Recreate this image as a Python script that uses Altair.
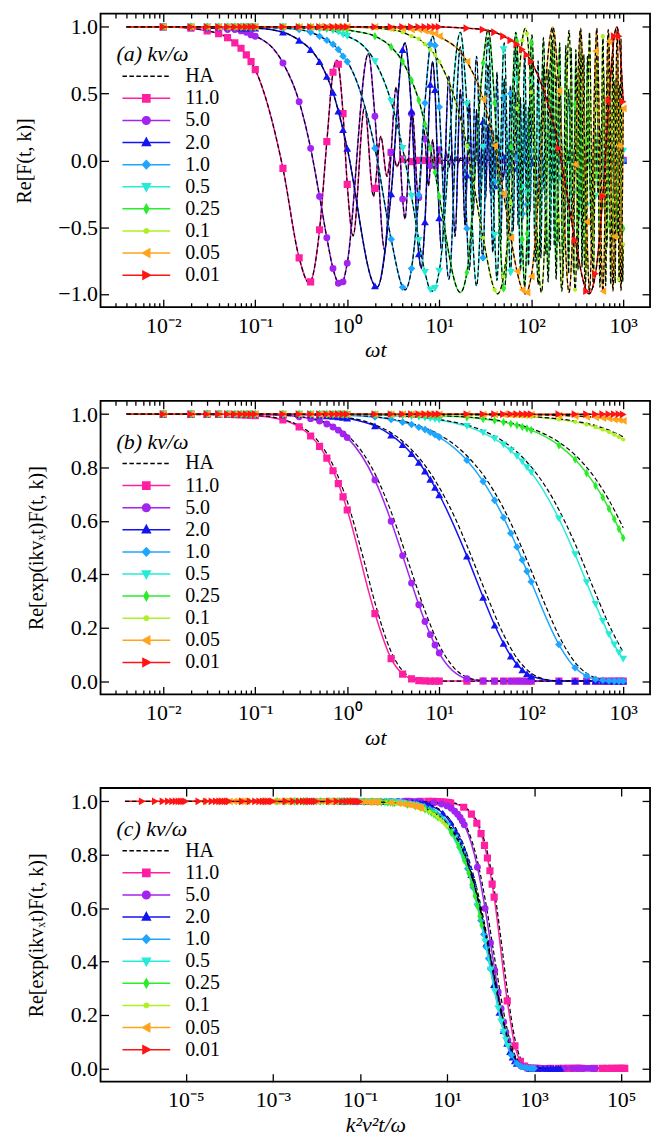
import altair as alt
import pandas as pd

SERIF = "Liberation Serif"

# ---------------- series ----------------
SERIES = ["11.0", "5.0", "2.0", "1.0", "0.5", "0.25", "0.1", "0.05", "0.01"]
KV = [11.0, 5.0, 2.0, 1.0, 0.5, 0.25, 0.1, 0.05, 0.01]
COLORS = ["#ff1fa3", "#a323f0", "#1414f2", "#1ea6ff", "#25ebd8",
          "#2bec2b", "#aef024", "#ffa41c", "#ff1414"]
MARK_SHAPES = ["square", "circle", "triangle-up", "diamond", "triangle-down",
               "M0,-1.1L0.6,0L0,1.1L-0.6,0Z", "circle", "triangle-left", "triangle-right"]
MARK_SIZES = [52, 48, 62, 58, 62, 62, 18, 62, 62]

# sampling times of the plotted markers (omega t)
MARK_T = [0.01, 0.02, 0.03, 0.04, 0.05, 0.06, 0.07, 0.08, 0.09,
          0.1, 0.2, 0.3, 0.4, 0.5, 0.6, 0.7, 0.8, 0.9,
          1, 2, 3, 4, 5, 6, 7, 8, 9,
          10, 20, 30, 40, 50, 60, 70, 80, 90,
          100, 200, 300, 400, 500, 600, 700, 800, 900,
          1000]
T_START = 0.004

# ---------------- panel (a): Re F(t,k) at the marker times ----------------
a_mk_11 = [1.00, 0.99, 0.97, 0.95, 0.92, 0.88, 0.84, 0.79, 0.74,
           0.68, -0.06, -0.73, -0.91, -0.52, 0.14, 0.66, 0.72, 0.35,
           -0.18, -0.21, 0.06, 0.01, -0.01, 0.0, 0.0, 0.0, 0.0] + [0.0] * 19
a_mk_5 = [1.00, 1.00, 0.99, 0.99, 0.98, 0.98, 0.97, 0.96, 0.94,
          0.93, 0.73, 0.44, 0.09, -0.27, -0.58, -0.81, -0.92, -0.91,
          -0.77, 0.33, 0.06, -0.29, 0.35, -0.28, 0.16, -0.04, -0.04,
          0.08] + [0.0] * 18
a_mk_2 = [1.0, 1.0, 1.0, 1.0, 1.0, 1.0, 0.99, 0.99, 0.99,
          0.99, 0.96, 0.90, 0.83, 0.74, 0.63, 0.51, 0.37, 0.23,
          0.09, -0.94, -0.25, 0.83, 0.37, -0.70, -0.46, 0.57, 0.53,
          -0.43, -0.11, 0.29, -0.19, 0.03, 0.06, -0.06, 0.02, 0.01,
          -0.02] + [0.0] * 9
a_mk_1 = [1.0] * 10 + [0.99, 0.98, 0.96, 0.93, 0.90, 0.87, 0.83, 0.78,
          0.74, 0.09, -0.59, -0.95, -0.81, -0.26, 0.43, 0.87, 0.86,
          0.40, -0.51, -0.73, -0.16, 0.47, 0.50, 0.02, -0.40, -0.33,
          0.07, -0.13, -0.03, 0.01, 0.01, 0.0, 0.0, 0.0, 0.0,
          0.0]
a_mk_05 = [1.0] * 11 + [0.99, 0.99, 0.98, 0.98, 0.97, 0.96, 0.94,
           0.93, 0.74, 0.44, 0.09, -0.27, -0.60, -0.84, -0.97, -0.96,
           -0.83, 0.42, 0.10, -0.56, 0.83, -0.84, 0.60, -0.20, -0.25,
           0.60, 0.11, -0.23, -0.34, -0.27, -0.12, 0.03, 0.10, 0.11,
           0.07]
a_mk_025 = [1.0] * 14 + [0.99, 0.99, 0.99, 0.99,
            0.98, 0.93, 0.85, 0.74, 0.60, 0.45, 0.27, 0.09, -0.09,
            -0.27, -0.84, 0.73, 0.43, -0.96, 0.10, 0.89, -0.59, -0.55,
            0.88, 0.68, 0.42, 0.14, -0.11, -0.34, -0.48, -0.57, -0.57,
            -0.51]
a_mk_01 = [1.0] * 19 + [0.99, 0.98, 0.96, 0.93, 0.91, 0.87, 0.83, 0.79,
           0.74, 0.11, -0.58, -0.97, -0.87, -0.32, 0.39, 0.90, 0.95,
           0.51, -0.45, -0.97, -0.56, 0.38, 0.93, 0.60, -0.30, -0.89,
           -0.63]
a_mk_005 = [1.0] * 20 + [0.99, 0.99, 0.98, 0.98, 0.97, 0.96, 0.95,
            0.93, 0.74, 0.46, 0.11, -0.25, -0.58, -0.83, -0.97, -0.99,
            -0.87, 0.52, -0.03, -0.46, 0.82, -0.98, 0.89, -0.57, 0.11,
            0.39]
a_mk_001 = [1.0] * 28 + [0.99, 0.98, 0.96, 0.93, 0.90, 0.87, 0.83, 0.79,
            0.74, 0.09, -0.60, -0.98, -0.85, -0.27, 0.45, 0.93, 0.93,
            0.44]

# oscillation turning points of the panel (a) curves
ext_t_11 = [0.386, 0.772, 1.158, 1.544, 1.930, 2.316, 2.702, 3.088, 3.474, 3.860, 4.246, 4.632]
ext_y_11 = [-0.92, 0.75, -0.565, 0.40, -0.27, 0.18, -0.12, 0.076, -0.048, 0.03, -0.02, 0.012]
ext_t_5 = [0.849, 1.698, 2.547, 3.396, 4.245, 5.094, 5.943, 6.792, 7.641, 8.49,
           9.339, 10.188, 11.037, 11.886, 12.735, 13.584, 14.433, 15.282, 16.13, 16.98]
ext_y_5 = [-0.93, 0.80, -0.67, 0.55, -0.44, 0.36, -0.29, 0.235, -0.19, 0.154,
           -0.124, 0.10, -0.081, 0.066, -0.053, 0.043, -0.035, 0.028, -0.023, 0.018]
ext_t_2 = [2.122, 4.245, 6.367, 8.49, 10.61, 12.73, 14.86, 16.98, 19.10, 21.22,
           23.35, 25.47, 27.59, 29.71, 31.84, 33.96, 36.08, 38.20, 40.33, 42.45,
           48.82, 55.18, 61.55, 67.92, 74.28, 80.65, 87.02, 93.39, 99.75, 106.1]
ext_y_2 = [-0.95, 0.88, -0.81, 0.74, -0.68, 0.63, -0.57, 0.53, -0.49, 0.45,
           -0.41, 0.38, -0.345, 0.32, -0.29, 0.27, -0.25, 0.23, -0.21, 0.19,
           -0.15, 0.115, -0.089, 0.069, -0.053, 0.041, -0.032, 0.025, -0.019, 0.015]
ext_t_1 = [4.245, 8.49, 12.735, 16.98, 21.22, 25.47, 29.71, 33.96, 38.20, 42.45,
           46.69, 50.94, 55.18, 59.43, 63.67, 67.92, 72.16, 76.41, 80.65, 84.90,
           89.14, 93.39, 97.63, 101.88, 114.61, 127.35, 140.08, 152.82, 165.55, 178.29,
           191.02, 203.76, 224.98, 246.2, 267.43, 288.65, 309.88, 331.1, 352.33, 373.55,
           394.78, 416.0, 437.2, 458.4]
ext_y_1 = [-0.97, 0.93, -0.89, 0.85, -0.82, 0.78, -0.75, 0.72, -0.69, 0.66,
           -0.63, 0.61, -0.58, 0.56, -0.53, 0.51, -0.49, 0.47, -0.45, 0.43,
           -0.41, 0.40, -0.38, 0.365, -0.32, 0.28, -0.25, 0.22, -0.19, 0.17,
           -0.15, 0.13, -0.107, 0.085, -0.069, 0.056, -0.045, 0.037, -0.030, 0.024,
           -0.019, 0.016, -0.013, 0.010]
ext_t_05 = [8.49, 16.98, 25.47, 33.96, 42.45, 50.94, 59.43, 67.92, 76.41, 84.90,
            93.39, 101.88, 110.37, 118.86, 127.35, 135.84, 144.33, 152.82, 161.31, 169.80,
            178.29, 186.78, 195.27, 203.76, 229.22, 254.69, 280.16, 305.63, 331.10, 356.57,
            382.04, 407.51, 449.96, 492.41, 534.86, 577.31, 619.76, 662.2, 704.65, 747.1,
            789.55, 832.0, 874.45, 916.9, 959.35]
ext_y_05 = [-0.98, 0.96, -0.94, 0.92, -0.90, 0.88, -0.86, 0.85, -0.83, 0.81,
            -0.79, 0.78, -0.76, 0.745, -0.73, 0.71, -0.70, 0.68, -0.67, 0.66,
            -0.64, 0.63, -0.615, 0.60, -0.565, 0.53, -0.50, 0.47, -0.44, 0.41,
            -0.39, 0.36, -0.33, 0.29, -0.26, 0.24, -0.21, 0.19, -0.17, 0.155,
            -0.14, 0.125, -0.11, 0.10, -0.09]
ext_t_025 = [16.98, 33.96, 50.94, 67.92, 84.90, 101.88, 118.86, 135.84, 152.82, 169.80,
             186.78, 203.76, 220.74, 237.72, 254.69, 271.67, 288.65, 305.63, 322.61, 339.59,
             356.57, 373.55, 390.53, 407.51, 458.45, 509.39, 560.33, 611.27, 662.2, 713.14,
             764.08, 815.02, 865.96, 916.9, 967.84]
ext_y_025 = [-0.99, 0.98, -0.97, 0.96, -0.95, 0.94, -0.93, 0.92, -0.91, 0.90,
             -0.89, 0.88, -0.87, 0.86, -0.85, 0.84, -0.84, 0.83, -0.82, 0.81,
             -0.80, 0.79, -0.78, 0.78, -0.75, 0.73, -0.70, 0.68, -0.66, 0.64,
             -0.62, 0.60, -0.58, 0.56, -0.55]
ext_t_01 = [43, 86, 129, 172, 215, 258, 301, 344, 387, 430, 473, 516,
            559, 602, 645, 688, 731, 774, 817, 860, 903, 946, 989]
ext_y_01 = [-1.0, 0.99, -0.99, 0.98, -0.98, 0.975, -0.97, 0.97, -0.96, 0.96, -0.95, 0.95,
            -0.95, 0.94, -0.94, 0.93, -0.93, 0.93, -0.92, 0.92, -0.91, 0.91, -0.91]
ext_t_005 = [86, 172, 258, 344, 430, 516, 602, 688, 774, 860, 946]
ext_y_005 = [-1.0, 1.0, -0.99, 0.99, -0.99, 0.99, -0.985, 0.98, -0.98, 0.98, -0.976]
ext_t_001 = [424.5, 849.0]
ext_y_001 = [-1.0, 1.0]

# ranges where the fast oscillation is drawn only through its turning points
skip_2 = (42.5, 110)
skip_1 = (102, 460)
skip_05 = (204, 999)
skip_025 = (408, 999)

# ---------------- panel (b): Re[exp(ikv_x t) F] at the marker times ----------------
b_mk_11 = [1.0, 1.0, 1.0, 1.0, 0.999, 0.998, 0.997, 0.996, 0.995,
           0.994, 0.978, 0.952, 0.918, 0.879, 0.835, 0.788, 0.740, 0.690,
           0.641, 0.253, 0.084, 0.026, 0.008, 0.002, 0.001, 0.0, 0.0] + [0.0] * 19
b_mk_5 = [1.0, 1.0, 1.0, 1.0, 1.0, 1.0, 0.999, 0.999, 0.999,
          0.999, 0.995, 0.990, 0.983, 0.974, 0.963, 0.952, 0.940, 0.926,
          0.912, 0.753, 0.599, 0.470, 0.367, 0.286, 0.223, 0.174, 0.135,
          0.105, 0.009, 0.001] + [0.0] * 16
b_mk_2 = [1.0] * 10 + [0.999, 0.998, 0.997, 0.996, 0.994, 0.992, 0.990, 0.988,
          0.985, 0.956, 0.921, 0.886, 0.852, 0.819, 0.787, 0.756, 0.726,
          0.698, 0.468, 0.314, 0.210, 0.141, 0.094, 0.063, 0.042, 0.028,
          0.019, 0.0] + [0.0] * 8
b_mk_1 = [1.0] * 12 + [0.999, 0.999, 0.999, 0.998, 0.998, 0.997,
          0.996, 0.989, 0.980, 0.970, 0.961, 0.951, 0.942, 0.932, 0.923,
          0.914, 0.827, 0.748, 0.677, 0.613, 0.554, 0.502, 0.454, 0.411,
          0.372, 0.137, 0.050, 0.019, 0.007, 0.003, 0.001, 0.0, 0.0,
          0.0]
b_mk_05 = [1.0] * 18 + [0.999, 0.997, 0.995, 0.992, 0.990, 0.988, 0.985, 0.983, 0.980,
           0.978, 0.954, 0.930, 0.907, 0.885, 0.863, 0.842, 0.821, 0.800,
           0.781, 0.608, 0.474, 0.369, 0.287, 0.224, 0.174, 0.136, 0.106,
           0.082]
b_mk_025 = [1.0] * 19 + [0.999, 0.999, 0.998, 0.998, 0.997, 0.996, 0.996, 0.995,
            0.994, 0.988, 0.982, 0.976, 0.970, 0.964, 0.958, 0.952, 0.946,
            0.940, 0.883, 0.830, 0.779, 0.732, 0.688, 0.646, 0.607, 0.570,
            0.536]
b_mk_01 = [1.0] * 20 + [0.999] * 7 + [0.999, 0.998, 0.997, 0.996, 0.995, 0.994, 0.993, 0.992, 0.991,
           0.990, 0.980, 0.971, 0.961, 0.951, 0.942, 0.933, 0.923, 0.914,
           0.905]
b_mk_005 = [1.0] * 29 + [0.999, 0.999, 0.999, 0.998, 0.998, 0.998, 0.998,
            0.998, 0.995, 0.993, 0.990, 0.988, 0.985, 0.983, 0.980, 0.978,
            0.975]
b_mk_001 = [1.0] * 45 + [0.999]

# HA curves of panels (b) and (c)
ha_t_11 = [0.004, 0.1, 0.2, 0.3, 0.5, 0.7, 1, 1.5, 2, 3, 5, 7, 10, 1000]
ha_y_11 = [1.0, 0.995, 0.98, 0.957, 0.892, 0.809, 0.673, 0.459, 0.294, 0.11, 0.013, 0.002, 0.0, 0.0]
ha_t_5 = [0.004, 0.1, 0.2, 0.3, 0.5, 0.7, 1, 1.5, 2, 3, 5, 7, 10, 15, 20, 30, 50, 1000]
ha_y_5 = [1.0, 0.999, 0.996, 0.991, 0.977, 0.957, 0.921, 0.851, 0.777, 0.634, 0.41, 0.263,
          0.135, 0.044, 0.015, 0.002, 0.0, 0.0]
ha_t_2 = [0.004, 0.3, 0.5, 0.7, 1, 1.5, 2, 3, 5, 7, 10, 15, 20, 30, 50, 70, 100, 150, 200, 1000]
ha_y_2 = [1.0, 0.999, 0.996, 0.993, 0.987, 0.975, 0.96, 0.93, 0.867, 0.808, 0.726, 0.608,
          0.508, 0.356, 0.175, 0.086, 0.03, 0.005, 0.001, 0.0]
ha_t_1 = [0.004, 0.5, 1, 2, 3, 5, 7, 10, 15, 20, 30, 50, 70, 100, 150, 200, 300, 500, 700, 1000]
ha_y_1 = [1.0, 0.999, 0.997, 0.99, 0.982, 0.965, 0.948, 0.923, 0.883, 0.844, 0.773, 0.647,
          0.541, 0.414, 0.266, 0.17, 0.07, 0.012, 0.002, 0.0]
ha_t_05 = [0.004, 1, 2, 3, 5, 7, 10, 15, 20, 30, 50, 70, 100, 150, 200, 300, 500, 700, 1000]
ha_y_05 = [1.0, 0.999, 0.997, 0.995, 0.991, 0.987, 0.98, 0.969, 0.959, 0.938, 0.897, 0.858,
           0.802, 0.718, 0.642, 0.514, 0.329, 0.211, 0.108]
ha_t_025 = [0.004, 1, 5, 10, 20, 30, 50, 70, 100, 150, 200, 300, 500, 700, 1000]
ha_y_025 = [1.0, 1.0, 0.998, 0.995, 0.989, 0.984, 0.973, 0.962, 0.946, 0.92, 0.895, 0.847,
            0.758, 0.678, 0.574]
ha_t_01 = [0.004, 10, 30, 50, 100, 200, 300, 500, 700, 1000]
ha_y_01 = [1.0, 0.999, 0.997, 0.996, 0.991, 0.982, 0.974, 0.957, 0.94, 0.915]
ha_t_005 = [0.004, 30, 100, 300, 500, 700, 1000]
ha_y_005 = [1.0, 1.0, 0.998, 0.993, 0.989, 0.985, 0.978]
ha_t_001 = [0.004, 1000]
ha_y_001 = [1.0, 0.999]

# ticks
X_MAJOR_AB = [0.01, 0.1, 1, 10, 100, 1000]
X_MINOR_AB = [0.003, 0.004, 0.005, 0.006, 0.007, 0.008, 0.009,
              0.02, 0.03, 0.04, 0.05, 0.06, 0.07, 0.08, 0.09,
              0.2, 0.3, 0.4, 0.5, 0.6, 0.7, 0.8, 0.9,
              2, 3, 4, 5, 6, 7, 8, 9,
              20, 30, 40, 50, 60, 70, 80, 90,
              200, 300, 400, 500, 600, 700, 800, 900]
X_MAJOR_C = [1e-5, 1e-3, 1e-1, 1e1, 1e3, 1e5]
Y_TICKS_A = [-1.0, -0.5, 0.0, 0.5, 1.0]
Y_TICKS_BC = [0.0, 0.2, 0.4, 0.6, 0.8, 1.0]

# ---------------- assemble tables ----------------
A_MK = [a_mk_11, a_mk_5, a_mk_2, a_mk_1, a_mk_05, a_mk_025, a_mk_01, a_mk_005, a_mk_001]
A_ET = [ext_t_11, ext_t_5, ext_t_2, ext_t_1, ext_t_05, ext_t_025, ext_t_01, ext_t_005, ext_t_001]
A_EY = [ext_y_11, ext_y_5, ext_y_2, ext_y_1, ext_y_05, ext_y_025, ext_y_01, ext_y_005, ext_y_001]
A_SKIP = [None, None, skip_2, skip_1, skip_05, skip_025, None, None, None]
B_MK = [b_mk_11, b_mk_5, b_mk_2, b_mk_1, b_mk_05, b_mk_025, b_mk_01, b_mk_005, b_mk_001]
HA_T = [ha_t_11, ha_t_5, ha_t_2, ha_t_1, ha_t_05, ha_t_025, ha_t_01, ha_t_005, ha_t_001]
HA_Y = [ha_y_11, ha_y_5, ha_y_2, ha_y_1, ha_y_05, ha_y_025, ha_y_01, ha_y_005, ha_y_001]

for lst in A_MK + B_MK:
    assert len(lst) == len(MARK_T), len(lst)
for a, b in zip(A_ET + HA_T, A_EY + HA_Y):
    assert len(a) == len(b), (len(a), len(b))

line_a, mk_a, line_b, mk_b, ha_b = [], [], [], [], []
for s, kv, amk, et, ey, sk, bmk, ht, hy in zip(SERIES, KV, A_MK, A_ET, A_EY, A_SKIP, B_MK, HA_T, HA_Y):
    pts = [(T_START, 1.0)]
    pts += [(t, y) for t, y in zip(MARK_T, amk) if not (sk and sk[0] < t < sk[1])]
    pts += list(zip(et, ey))
    pts.sort()
    line_a += [{"series": s, "t": t, "y": y} for t, y in pts]
    mk_a += [{"series": s, "t": t, "y": y} for t, y in zip(MARK_T, amk)]
    k2 = kv * kv
    line_b += [{"series": s, "t": T_START, "xc": T_START * k2, "y": 1.0}]
    line_b += [{"series": s, "t": t, "xc": t * k2, "y": y} for t, y in zip(MARK_T, bmk)]
    mk_b += [{"series": s, "t": t, "xc": t * k2, "y": y} for t, y in zip(MARK_T, bmk)]
    ha_b += [{"series": s, "t": t, "xc": t * k2, "y": y} for t, y in zip(ht, hy)]

line_a = pd.DataFrame(line_a)
mk_a = pd.DataFrame(mk_a)
line_b = pd.DataFrame(line_b)
mk_b = pd.DataFrame(mk_b)
ha_b = pd.DataFrame(ha_b)

LEG_ORDER = ["HA"] + SERIES
LINE = "M-1,0L11,0"
LEG_PATHS = [
    LINE,
    LINE + "M4.1,-0.9L5.9,-0.9L5.9,0.9L4.1,0.9Z",
    LINE + "M5.95,0A0.95,0.95,0,1,1,4.05,0A0.95,0.95,0,1,1,5.95,0Z",
    LINE + "M5,-1.1L6,0.75L4,0.75Z",
    LINE + "M5,-1L6,0L5,1L4,0Z",
    LINE + "M5,1.1L6,-0.75L4,-0.75Z",
    LINE + "M5,-1.1L5.6,0L5,1.1L4.4,0Z",
    LINE + "M5.55,0A0.55,0.55,0,1,1,4.45,0A0.55,0.55,0,1,1,5.55,0Z",
    LINE + "M4,0L5.85,-1L5.85,1Z",
    LINE + "M6,0L4.15,-1L4.15,1Z",
]
leg_df = pd.DataFrame({"series": LEG_ORDER})

IS_DECADE = "abs(log(datum.value)/LN10 - round(log(datum.value)/LN10)) < 0.001"
SUP = "['⁰','¹','²','³','⁴','⁵','⁶','⁷','⁸','⁹']"
LABEL_EXPR = (f"{IS_DECADE} ? '10' + (round(log(datum.value)/LN10) < 0 ? '⁻' : '') + "
              f"{SUP}[abs(round(log(datum.value)/LN10))] : ''")
TICK_DASH = {"condition": {"test": IS_DECADE, "value": [1, 0]}, "value": [0, 3.5, 4.5]}

W, H = 552, 295
FS = 22
LFS = 20


def panel(line_df, mk_df, ha_df, xf, xdom, ydom, yvals, xvals, xtitle, ytitle, ytx, legtitle):
    xs = alt.Scale(type="log", domain=xdom, nice=False)
    ys = alt.Scale(domain=ydom, nice=False, zero=False)
    X = alt.X(f"{xf}:Q", scale=xs, axis=None)
    Y = alt.Y("y:Q", scale=ys, axis=None)
    layers = []
    for s, c, shp, sz in zip(SERIES, COLORS, MARK_SHAPES, MARK_SIZES):
        f = alt.datum.series == s
        layers.append(alt.Chart(line_df).transform_filter(f).mark_line(
            color=c, strokeWidth=1.5, interpolate="monotone", clip=True).encode(x=X, y=Y))
        layers.append(alt.Chart(ha_df).transform_filter(f).mark_line(
            color="black", strokeWidth=1.2, strokeDash=[4.5, 2.5], interpolate="monotone",
            clip=True).encode(x=X, y=Y))
        layers.append(alt.Chart(mk_df).transform_filter(f).mark_point(
            shape=shp, size=sz, filled=True, color=c, opacity=1, clip=True).encode(x=X, y=Y))

    leg = alt.Legend(title=legtitle, orient="none", legendX=16, legendY=31,
                     titleFont=SERIF, titleFontSize=FS, titleFontStyle="italic",
                     titleFontWeight="normal", titleColor="black", titlePadding=0,
                     labelFont=SERIF, labelFontSize=LFS, labelColor="black", labelOffset=49,
                     symbolSize=64, symbolStrokeWidth=1.5, symbolOpacity=1, rowPadding=2.2,
                     padding=0, labelLimit=300)
    legend_layer = alt.Chart(leg_df).mark_point(filled=True, opacity=0, size=64).encode(
        fill=alt.Fill("series:N", scale=alt.Scale(domain=LEG_ORDER, range=["black"] + COLORS), legend=leg),
        stroke=alt.Stroke("series:N", scale=alt.Scale(domain=LEG_ORDER, range=["black"] + COLORS), legend=leg),
        shape=alt.Shape("series:N", scale=alt.Scale(domain=LEG_ORDER, range=LEG_PATHS), legend=leg),
        strokeDash=alt.StrokeDash("series:N", scale=alt.Scale(domain=LEG_ORDER,
                                  range=[[4.5, 2.5]] + [[1, 0]] * 9), legend=leg),
    )

    bottom = alt.Chart(mk_df).mark_point(opacity=0).encode(
        x=alt.X(f"{xf}:Q", scale=xs, axis=alt.Axis(
            orient="bottom", values=xvals, tickSize=8, tickDash=TICK_DASH, offset=-8,
            labelPadding=8, labelExpr=LABEL_EXPR, labelOverlap=False, labelFlush=False,
            labelFont=SERIF, labelFontSize=FS,
            title=xtitle, titleFont=SERIF, titleFontSize=FS, titleFontStyle="italic", titlePadding=4)),
        y=alt.Y("y:Q", scale=ys, axis=alt.Axis(
            orient="left", values=yvals, format=".1f", tickSize=8, offset=-8, labelPadding=3,
            labelFont=SERIF, labelFontSize=FS,
            labelOverlap=False, title=ytitle, titleFont=SERIF, titleX=ytx, titleBaseline="middle")),
    )
    top = alt.Chart(mk_df).mark_point(opacity=0).encode(
        x=alt.X(f"{xf}:Q", scale=xs, axis=alt.Axis(
            orient="top", values=xvals, tickSize=8, tickDash=TICK_DASH, offset=-8,
            labels=False, title=None)),
        y=alt.Y("y:Q", scale=ys, axis=alt.Axis(
            orient="right", values=yvals, tickSize=8, offset=-8, labels=False, title=None)),
    )
    return alt.layer(*layers, legend_layer, bottom, top).resolve_axis(
        x="independent", y="independent").properties(width=W, height=H)


XDOM_AB = [0.00208, 1958]
XDOM_C = [1.1e-7, 4.61e5]

pa = panel(line_a, mk_a, line_a, "t", XDOM_AB, [-1.1, 1.1], Y_TICKS_A,
           X_MAJOR_AB + X_MINOR_AB, "ωt", "Re[F(t, k)]", -84, "(a) kv/ω")
pb = panel(line_b, mk_b, ha_b, "t", XDOM_AB, [-0.05, 1.05], Y_TICKS_BC,
           X_MAJOR_AB + X_MINOR_AB, "ωt", "Re[exp(ikvₓt)F(t, k)]", -72, "(b) kv/ω")
pc = panel(line_b, mk_b, ha_b, "xc", XDOM_C, [-0.05, 1.05], Y_TICKS_BC,
           X_MAJOR_C, "k²v²t/ω", "Re[exp(ikvₓt)F(t, k)]", -72, "(c) kv/ω")

chart = alt.vconcat(pa, pb, pc, spacing=94, bounds="flush").resolve_scale(
    x="independent", y="independent", fill="independent", stroke="independent",
    shape="independent", strokeDash="independent").resolve_legend(
    fill="independent", stroke="independent", shape="independent", strokeDash="independent"
).properties(
    padding={"left": 14, "top": 9, "right": 8, "bottom": 6}, background="white"
).configure(font=SERIF).configure_view(stroke="black", strokeWidth=1.8).configure_axis(
    labelFont=SERIF, labelFontSize=FS, labelColor="black", titleFont=SERIF, titleFontSize=20,
    titleColor="black", titleFontWeight="normal", tickColor="black", tickWidth=1.3,
    grid=False, domain=False).configure_legend(labelFont=SERIF, titleFont=SERIF)

chart.save("out.html", embed_options={"renderer": "svg", "actions": False})
